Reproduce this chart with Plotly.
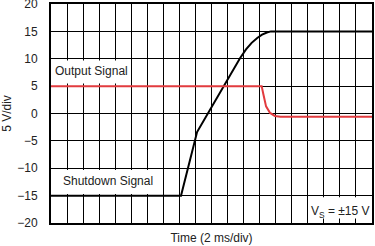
import plotly.graph_objects as go

# Time in ms (2 ms/div), voltage in V
shutdown_t = [0, 16.2, 18.2, 19.6, 21.55, 23.55, 24.3, 25.0, 25.7, 26.3, 26.9, 27.4, 40]
shutdown_v = [-15, -15, -3.4, 0.1, 5.0, 10.1, 11.7, 12.9, 13.8, 14.4, 14.8, 15, 15]

output_t = [0, 26.25, 26.45, 26.8, 27.3, 27.9, 28.6, 40]
output_v = [5, 5, 3.6, 1.3, 0.1, -0.45, -0.6, -0.6]

y_ticks = [-20, -15, -10, -5, 0, 5, 10, 15, 20]

FONT = "Arial, Liberation Sans, sans-serif"
TXT = "#222222"

fig = go.Figure()
fig.add_trace(go.Scatter(x=shutdown_t, y=shutdown_v, mode="lines",
                         line=dict(color="#000000", width=2), showlegend=False))
fig.add_trace(go.Scatter(x=output_t, y=output_v, mode="lines",
                         line=dict(color="#e23b3f", width=2), showlegend=False))

# white label boxes covering the grid
for x0, x1, y0, y1 in [(0.1, 9.9, 5.5, 9.7), (0.1, 13.9, -14.7, -10.3), (32.1, 39.9, -19.2, -15.3)]:
    fig.add_shape(type="rect", xref="x", yref="y", x0=x0, x1=x1, y0=y0, y1=y1,
                  fillcolor="white", line=dict(width=0), layer="between")

fig.add_annotation(x=0.3, y=7.7, xref="x", yref="y", text="Output Signal", showarrow=False,
                   xanchor="left", yanchor="middle", font=dict(family=FONT, size=12, color=TXT))
fig.add_annotation(x=1.3, y=-12.4, xref="x", yref="y", text="Shutdown Signal", showarrow=False,
                   xanchor="left", yanchor="middle", font=dict(family=FONT, size=12, color=TXT))
fig.add_annotation(x=40, y=-17.9, xref="x", yref="y", text="V<sub>S</sub> = ±15 V", showarrow=False,
                   xanchor="right", yanchor="middle", font=dict(family=FONT, size=12, color=TXT))

fig.update_xaxes(range=[0, 40], dtick=2, tick0=0, showticklabels=False, ticks="",
                 showgrid=True, gridcolor="#000000", gridwidth=1, zeroline=False,
                 showline=True, linecolor="#000000", linewidth=2, mirror=True,
                 automargin=False,
                 title=dict(text="Time (2 ms/div)", standoff=10, font=dict(family=FONT, size=12, color=TXT)))
fig.update_yaxes(range=[-20, 20], tickvals=y_ticks, ticks="", ticklabelstandoff=9,
                 ticklabeloverflow="allow", automargin=False,
                 tickfont=dict(family=FONT, size=12, color=TXT),
                 showgrid=True, gridcolor="#000000", gridwidth=1, zeroline=False,
                 showline=True, linecolor="#000000", linewidth=2, mirror=True,
                 title=dict(text="5 V/div", standoff=4, font=dict(family=FONT, size=12, color=TXT)))

fig.update_layout(width=375, height=246, margin=dict(l=51, r=3, t=4, b=23),
                  plot_bgcolor="white", paper_bgcolor="white")

fig.write_html("out.html")
